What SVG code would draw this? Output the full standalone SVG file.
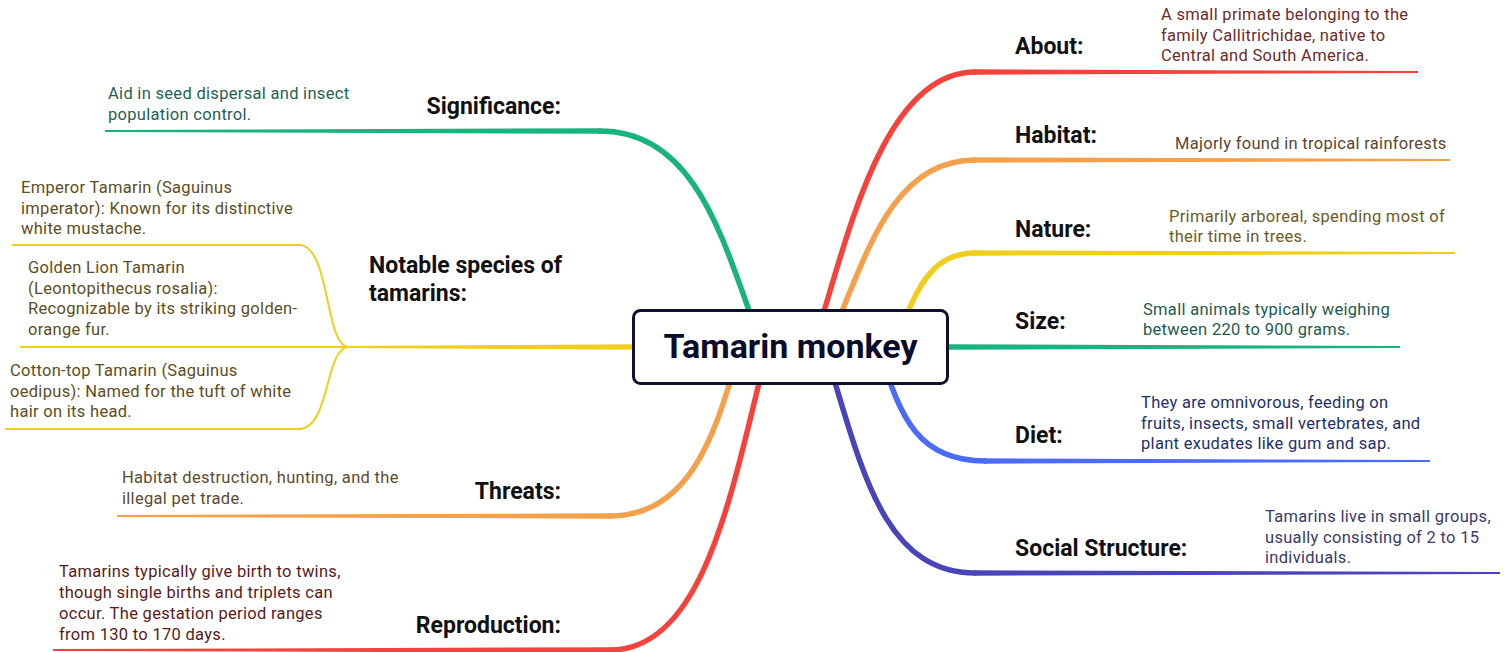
<svg xmlns="http://www.w3.org/2000/svg" width="1508" height="652" viewBox="0 0 1508 652">
<style>
.c{fill:none;stroke-width:5.5;stroke-linecap:round}
.s{fill:none;stroke-width:2}
.lbl{font-family:Roboto,"Liberation Sans",sans-serif;font-weight:bold;font-size:23px;fill:#111}
.d{font-family:Roboto,"Liberation Sans",sans-serif;font-size:16.5px;letter-spacing:0.3px}
.root{font-family:Roboto,"Liberation Sans",sans-serif;font-weight:bold;font-size:34px;fill:#0b0b2b}
</style>
<rect width="1508" height="652" fill="#fff"/>
<g id="connectors">
  <path class="c" stroke="#f4433c" d="M 815,340 C 845,250 880,72 975,72"/>
  <path fill="#f4433c" d="M 974,69.3 L 1418,71 L 1418,73 L 974,74.7 Z"/>
  <path class="c" stroke="#f5a04a" d="M 830,340 C 865,260 890,160 975,160"/>
  <path fill="#f5a04a" d="M 974,157.3 L 1450,159 L 1450,161 L 974,162.7 Z"/>
  <path class="c" stroke="#f0cf1c" d="M 895,340 C 915,300 925,253 975,253"/>
  <path fill="#f0cf1c" d="M 974,250.3 L 1455,252 L 1455,254 L 974,255.7 Z"/>
  <path fill="#18b47b" d="M 945,344.3 L 1400,346 L 1400,348 L 945,349.7 Z"/>
  <path class="c" stroke="#4b6cf6" d="M 880,350 C 900,420 920,461 985,461"/>
  <path fill="#4b6cf6" d="M 984,458.3 L 1430,460 L 1430,462 L 984,463.7 Z"/>
  <path class="c" stroke="#4a44b9" d="M 825,350 C 860,460 880,573 975,573"/>
  <path fill="#4a44b9" d="M 974,570.3 L 1500,572 L 1500,574 L 974,575.7 Z"/>
  <path class="c" stroke="#18b47b" d="M 760,340 C 725,250 700,131 600,131"/>
  <path fill="#18b47b" d="M 601,128.3 L 105,130 L 105,132 L 601,133.7 Z"/>
  <path fill="#f0cf1c" d="M 640,344.3 L 346,346 L 346,348 L 640,349.7 Z"/>
  <path class="s" stroke="#f0cf1c" d="M 348,347 C 325,345 330,247 300,245 L 12,245"/>
  <path class="s" stroke="#f0cf1c" d="M 348,347 L 20,347"/>
  <path class="s" stroke="#f0cf1c" d="M 348,347 C 325,349 330,427 300,429 L 5,429"/>
  <path class="c" stroke="#f5a04a" d="M 740,350 C 720,410 700,516 610,516"/>
  <path fill="#f5a04a" d="M 611,513.3 L 117,515 L 117,517 L 611,518.7 Z"/>
  <path class="c" stroke="#f4433c" d="M 770,340 C 735,470 710,650 610,650"/>
  <path fill="#f4433c" d="M 611,647.3 L 53,649 L 53,651 L 611,652.7 Z"/>
</g>
<g id="root">
  <rect x="633.5" y="310.5" width="314" height="73" rx="7" fill="#fff" stroke="#0f0f30" stroke-width="3"/>
  <text class="root" x="790.5" y="358" text-anchor="middle">Tamarin monkey</text>
</g>
<g id="about">
  <text class="lbl" x="1015" y="54">About:</text>
  <text class="d" fill="#6b2b2b"><tspan x="1161" y="20">A small primate belonging to the</tspan><tspan x="1161" y="40.5">family Callitrichidae, native to</tspan><tspan x="1161" y="61">Central and South America.</tspan></text>
</g>
<g id="habitat">
  <text class="lbl" x="1015" y="143">Habitat:</text>
  <text class="d" fill="#5a4630" x="1175" y="149">Majorly found in tropical rainforests</text>
</g>
<g id="nature">
  <text class="lbl" x="1015" y="237">Nature:</text>
  <text class="d" fill="#6a5a25"><tspan x="1169" y="222">Primarily arboreal, spending most of</tspan><tspan x="1169" y="242">their time in trees.</tspan></text>
</g>
<g id="size">
  <text class="lbl" x="1015" y="329">Size:</text>
  <text class="d" fill="#1e5a50"><tspan x="1143" y="315">Small animals typically weighing</tspan><tspan x="1143" y="335">between 220 to 900 grams.</tspan></text>
</g>
<g id="diet">
  <text class="lbl" x="1015" y="443">Diet:</text>
  <text class="d" fill="#1e2f6b"><tspan x="1141" y="408">They are omnivorous, feeding on</tspan><tspan x="1141" y="428.5">fruits, insects, small vertebrates, and</tspan><tspan x="1141" y="449">plant exudates like gum and sap.</tspan></text>
</g>
<g id="social">
  <text class="lbl" x="1015" y="556">Social Structure:</text>
  <text class="d" fill="#3a3a6a"><tspan x="1265" y="522">Tamarins live in small groups,</tspan><tspan x="1265" y="542.5">usually consisting of 2 to 15</tspan><tspan x="1265" y="563">individuals.</tspan></text>
</g>
<g id="significance">
  <text class="lbl" x="561" y="114" text-anchor="end">Significance:</text>
  <text class="d" fill="#1f5f55"><tspan x="108" y="99">Aid in seed dispersal and insect</tspan><tspan x="108" y="120">population control.</tspan></text>
</g>
<g id="notable">
  <text class="lbl"><tspan x="369" y="273">Notable species of</tspan><tspan x="369" y="301">tamarins:</tspan></text>
</g>
<g id="emperor">
  <text class="d" fill="#5c4e22"><tspan x="21" y="193">Emperor Tamarin (Saguinus</tspan><tspan x="21" y="213.5">imperator): Known for its distinctive</tspan><tspan x="21" y="234">white mustache.</tspan></text>
</g>
<g id="golden">
  <text class="d" fill="#5c4e22"><tspan x="28" y="273">Golden Lion Tamarin</tspan><tspan x="28" y="293.5">(Leontopithecus rosalia):</tspan><tspan x="28" y="314">Recognizable by its striking golden-</tspan><tspan x="28" y="334.5">orange fur.</tspan></text>
</g>
<g id="cottontop">
  <text class="d" fill="#5c4e22"><tspan x="10" y="376">Cotton-top Tamarin (Saguinus</tspan><tspan x="10" y="396.5">oedipus): Named for the tuft of white</tspan><tspan x="10" y="417">hair on its head.</tspan></text>
</g>
<g id="threats">
  <text class="lbl" x="561" y="499" text-anchor="end">Threats:</text>
  <text class="d" fill="#5c4a30"><tspan x="122" y="483">Habitat destruction, hunting, and the</tspan><tspan x="122" y="504">illegal pet trade.</tspan></text>
</g>
<g id="reproduction">
  <text class="lbl" x="561" y="633" text-anchor="end">Reproduction:</text>
  <text class="d" fill="#5a1a1a"><tspan x="59" y="577">Tamarins typically give birth to twins,</tspan><tspan x="59" y="598">though single births and triplets can</tspan><tspan x="59" y="619">occur. The gestation period ranges</tspan><tspan x="59" y="639.5">from 130 to 170 days.</tspan></text>
</g>
</svg>
